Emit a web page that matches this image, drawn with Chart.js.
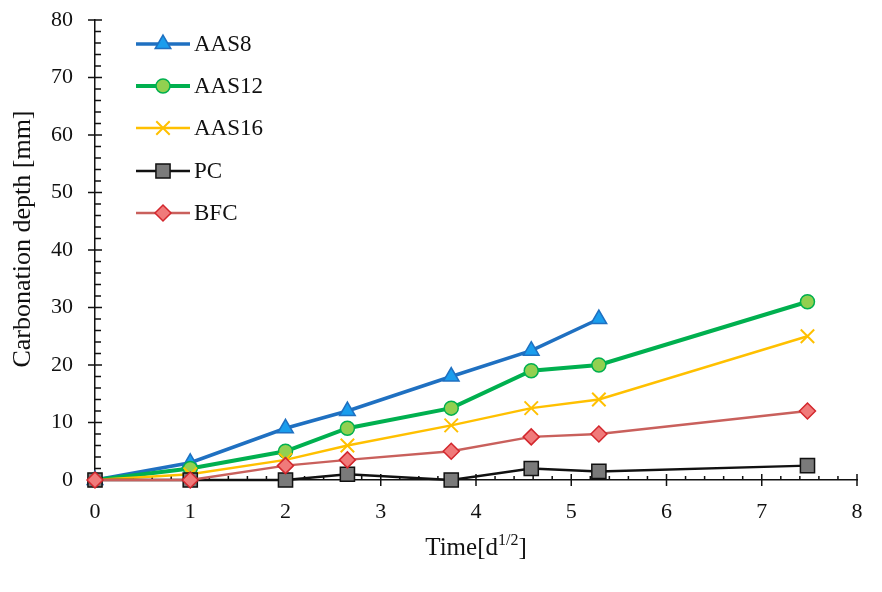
<!DOCTYPE html>
<html>
<head>
<meta charset="utf-8">
<script src="https://cdn.jsdelivr.net/npm/chart.js@4/dist/chart.umd.min.js"></script>
<style>
  html, body { margin: 0; padding: 0; background: #fff; }
  #wrap { width: 882px; height: 592px; }
</style>
</head>
<body>
<div id="wrap"><canvas id="chart" width="882" height="592"></canvas></div>
<script>
// time axis in d^(1/2)
const time = [0, 1, 2, 2.65, 3.74, 4.58, 5.29, 7.48];

// carbonation depth [mm]
const aas8  = [0, 3, 9, 12, 18, 22.5, 28];
const aas12 = [0, 2, 5, 9, 12.5, 19, 20, 31];
const aas16 = [0, 1, 3.5, 6, 9.5, 12.5, 14, 25];
const pc    = [0, 0, 0, 1, 0, 2, 1.5, 2.5];
const bfc   = [0, 0, 2.5, 3.5, 5, 7.5, 8, 12];

const seriesNames = ['AAS8', 'AAS12', 'AAS16', 'PC', 'BFC'];
const xTicks = [0, 1, 2, 3, 4, 5, 6, 7, 8];
const yTicks = [0, 10, 20, 30, 40, 50, 60, 70, 80];

const SERIF = '"Liberation Serif", "Times New Roman", serif';

const pts = vals => vals.map((v, i) => ({ x: time[i], y: v }));

// draws major/minor tick marks on both axes, plus axis titles
const axisTicks = {
    id: 'axisTicks',
    beforeDatasetsDraw(chart) {
        const ctx = chart.ctx;
        const xs = chart.scales.x, ys = chart.scales.y;
        const y0 = ys.bottom, x0 = xs.left;
        ctx.save();
        ctx.strokeStyle = '#111';
        ctx.lineWidth = 1.5;
        ctx.beginPath();
        for (let v = 0; v <= 8.0001; v += 0.2) {
            const px = xs.getPixelForValue(v);
            const major = Math.abs(v - Math.round(v)) < 0.01;
            ctx.moveTo(px, major ? y0 - 6 : y0 - 4);
            ctx.lineTo(px, major ? y0 + 6 : y0);
        }
        for (let v = 0; v <= 80.001; v += 2) {
            const py = ys.getPixelForValue(v);
            const major = v % 10 === 0;
            ctx.moveTo(major ? x0 - 7 : x0, py);
            ctx.lineTo(major ? x0 + 7 : x0 + 6, py);
        }
        ctx.stroke();

        ctx.fillStyle = '#111';
        ctx.save();
        ctx.translate(23, 239);
        ctx.rotate(-Math.PI / 2);
        ctx.font = '26px ' + SERIF;
        ctx.textAlign = 'center';
        ctx.textBaseline = 'middle';
        ctx.fillText('Carbonation depth [mm]', 0, 0);
        ctx.restore();

        const main = '25px ' + SERIF, sup = '16px ' + SERIF;
        ctx.font = main;
        const w1 = ctx.measureText('Time[d').width;
        const w3 = ctx.measureText(']').width;
        ctx.font = sup;
        const w2 = ctx.measureText('1/2').width;
        let tx = (xs.left + xs.right) / 2 - (w1 + w2 + w3) / 2;
        const base = 555;
        ctx.textBaseline = 'alphabetic';
        ctx.textAlign = 'left';
        ctx.font = main;
        ctx.fillText('Time[d', tx, base);
        tx += w1;
        ctx.font = sup;
        ctx.fillText('1/2', tx, base - 10);
        tx += w2;
        ctx.font = main;
        ctx.fillText(']', tx, base);
        ctx.restore();
    }
};

// legend: line sample with marker, stacked in the upper left
const lineLegend = {
    id: 'lineLegend',
    afterDraw(chart) {
        const ctx = chart.ctx;
        const rows = [44, 86, 128, 171, 213];
        ctx.save();
        chart.data.datasets.forEach(ds => {
            const y = rows[ds.legendRow];
            ctx.strokeStyle = ds.borderColor;
            ctx.lineWidth = ds.borderWidth;
            ctx.beginPath();
            ctx.moveTo(136, y);
            ctx.lineTo(190, y);
            ctx.stroke();
            ctx.fillStyle = ds.pointBackgroundColor;
            ctx.strokeStyle = ds.pointBorderColor;
            ctx.lineWidth = ds.pointBorderWidth;
            Chart.helpers.drawPoint(ctx, {
                pointStyle: ds.pointStyle,
                radius: ds.pointRadius,
                rotation: 0,
                borderWidth: ds.pointBorderWidth
            }, 163, y);
            ctx.fillStyle = '#111';
            ctx.font = '23px ' + SERIF;
            ctx.textBaseline = 'middle';
            ctx.fillText(ds.label, 194, y + 1);
        });
        ctx.restore();
    }
};

new Chart(document.getElementById('chart'), {
    type: 'line',
    data: {
        datasets: [
            {
                label: seriesNames[4], data: pts(bfc), legendRow: 4, order: 0,
                borderColor: '#c9605c', borderWidth: 2.5,
                pointStyle: 'rectRot', pointRadius: 8,
                pointBackgroundColor: '#f07a7a', pointBorderColor: '#d3272d', pointBorderWidth: 1.5
            },
            {
                label: seriesNames[3], data: pts(pc), legendRow: 3, order: 1,
                borderColor: '#111111', borderWidth: 2.5,
                pointStyle: 'rect', pointRadius: 10,
                pointBackgroundColor: '#7a7a7a', pointBorderColor: '#111111', pointBorderWidth: 1.5
            },
            {
                label: seriesNames[2], data: pts(aas16), legendRow: 2, order: 2,
                borderColor: '#ffc000', borderWidth: 2.5,
                pointStyle: 'crossRot', pointRadius: 9.5,
                pointBackgroundColor: '#ffc000', pointBorderColor: '#ffc000', pointBorderWidth: 2
            },
            {
                label: seriesNames[1], data: pts(aas12), legendRow: 1, order: 3,
                borderColor: '#00b04f', borderWidth: 4,
                pointStyle: 'circle', pointRadius: 7,
                pointBackgroundColor: '#92d050', pointBorderColor: '#00b04f', pointBorderWidth: 1.5
            },
            {
                label: seriesNames[0], data: pts(aas8), legendRow: 0, order: 4,
                borderColor: '#1f70c1', borderWidth: 3.5,
                pointStyle: 'triangle', pointRadius: 9,
                pointBackgroundColor: '#1a9ded', pointBorderColor: '#1f70c1', pointBorderWidth: 1.5
            }
        ]
    },
    options: {
        responsive: false,
        animation: false,
        clip: false,
        layout: { padding: { top: 20, right: 25, left: 0, bottom: 0 } },
        plugins: { legend: { display: false }, tooltip: { enabled: false } },
        elements: { line: { tension: 0 } },
        scales: {
            x: {
                type: 'linear',
                min: 0, max: 8,
                afterFit: s => { s.height = 112; s.paddingLeft = 0; s.paddingRight = 0; },
                afterBuildTicks: s => { s.ticks = xTicks.map(v => ({ value: v })); },
                grid: { display: false, drawTicks: false },
                border: { display: true, color: '#111', width: 1.5 },
                ticks: { color: '#111', padding: 19, font: { family: SERIF, size: 22 } }
            },
            y: {
                type: 'linear',
                min: 0, max: 80,
                afterFit: s => { s.width = 95; s.paddingTop = 0; s.paddingBottom = 0; },
                afterBuildTicks: s => { s.ticks = yTicks.map(v => ({ value: v })); },
                grid: { display: false, drawTicks: false },
                border: { display: true, color: '#111', width: 1.5 },
                ticks: { color: '#111', padding: 22, font: { family: SERIF, size: 22 } }
            }
        }
    },
    plugins: [axisTicks, lineLegend]
});
</script>
</body>
</html>
